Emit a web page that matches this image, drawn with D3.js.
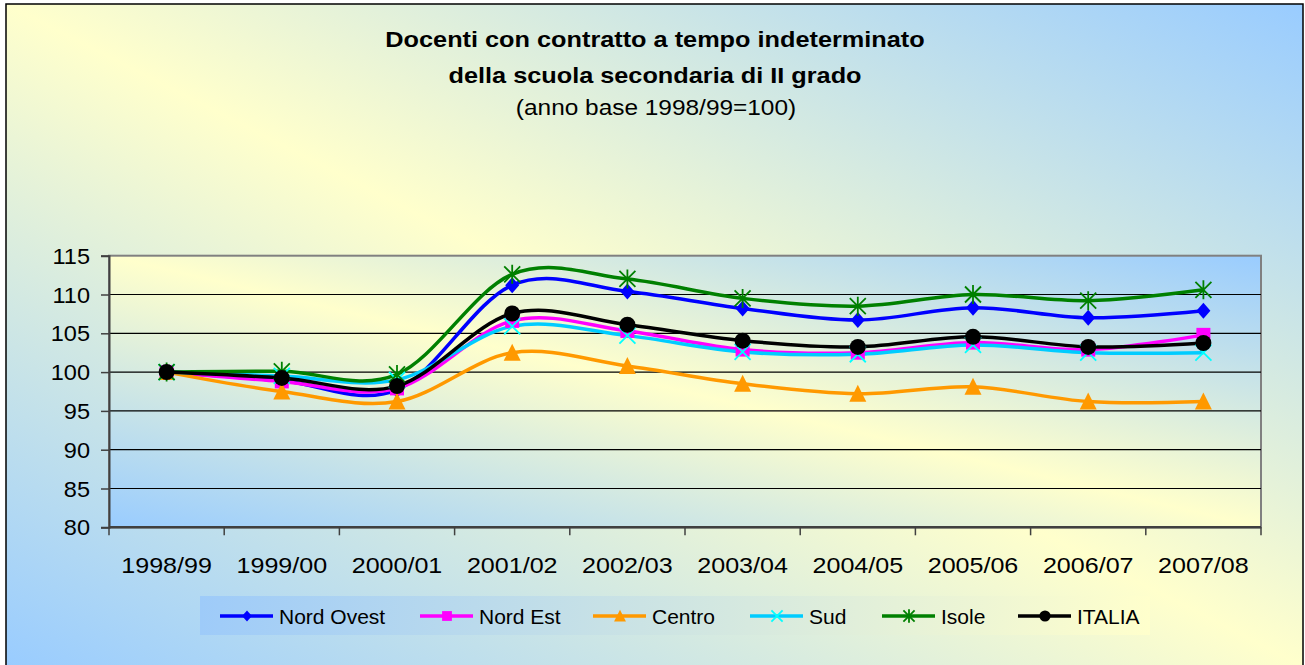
<html>
<head>
<meta charset="utf-8">
<title>Docenti scuola secondaria II grado</title>
<script src="https://cdn.jsdelivr.net/npm/d3@7/dist/d3.min.js"></script>
<style>
  body { margin: 0; background: #fff; }
  svg text { font-family: "Liberation Sans", Arial, sans-serif; fill: #000; }
</style>
</head>
<body>
<script>
// categories (school years)
var years = ['1998/99','1999/00','2000/01','2001/02','2002/03','2003/04','2004/05','2005/06','2006/07','2007/08'];
var yTicks = [80, 85, 90, 95, 100, 105, 110, 115];

// index numbers, base 1998/99 = 100
var nordOvest = [100, 98.9, 97.7, 111.2, 110.4, 108.2, 106.7, 108.3, 107.0, 107.9];
var nordEst   = [100, 98.8, 97.9, 106.6, 105.3, 102.9, 102.5, 103.8, 102.9, 104.8];
var centro    = [100, 97.5, 96.2, 102.5, 100.8, 98.5, 97.2, 98.1, 96.2, 96.2];
var sud       = [100, 99.5, 99.0, 105.9, 104.7, 102.6, 102.3, 103.5, 102.5, 102.5];
var isole     = [100, 100.1, 99.7, 112.6, 112.0, 109.5, 108.5, 110.0, 109.2, 110.6];
var italia    = [100, 99.25, 98.2, 107.55, 106.1, 104.05, 103.25, 104.55, 103.25, 103.75];

var seriesNames = ['Nord Ovest','Nord Est','Centro','Sud','Isole','ITALIA'];

var series = [
  {name: seriesNames[0], values: nordOvest, color: '#0000FF', mcolor: '#0000FF', marker: 'diamond'},
  {name: seriesNames[1], values: nordEst,   color: '#FF00FF', mcolor: '#FF00FF', marker: 'square'},
  {name: seriesNames[2], values: centro,    color: '#FF9900', mcolor: '#FF9900', marker: 'triangle'},
  {name: seriesNames[3], values: sud,       color: '#00CCFF', mcolor: '#00FFFF', marker: 'x'},
  {name: seriesNames[4], values: isole,     color: '#008000', mcolor: '#008000', marker: 'star'},
  {name: seriesNames[5], values: italia,    color: '#000000', mcolor: '#000000', marker: 'circle'}
];

var W = 1305, H = 665;
var plot = {left: 109, right: 1261, top: 255.7, bottom: 527.3};

var svg = d3.select('body').append('svg')
  .attr('width', W).attr('height', H);

var defs = svg.append('defs');
function diagGrad(id) {
  var g = defs.append('linearGradient').attr('id', id)
    .attr('x1', 0).attr('y1', 1).attr('x2', 1).attr('y2', 0);
  g.append('stop').attr('offset', '0%').attr('stop-color', '#99CCFF');
  g.append('stop').attr('offset', '50%').attr('stop-color', '#FFFFCC');
  g.append('stop').attr('offset', '100%').attr('stop-color', '#99CCFF');
}
diagGrad('bgGrad');
diagGrad('plotGrad');
var lg = defs.append('linearGradient').attr('id', 'legGrad')
  .attr('x1', 0).attr('y1', 0).attr('x2', 1).attr('y2', 0);
lg.append('stop').attr('offset', '0%').attr('stop-color', '#9ECBF9');
lg.append('stop').attr('offset', '100%').attr('stop-color', '#FFFFCC');

// chart area
svg.append('rect')
  .attr('x', 6).attr('y', 4).attr('width', 1297).attr('height', 662)
  .attr('fill', 'url(#bgGrad)')
  .attr('stroke', '#000').attr('stroke-width', 1.5);

// stretched text helper (the original is a bit wider than tall)
function label(g, txt, x, y, size, anchor, sx, weight) {
  return g.append('text')
    .attr('transform', 'translate(' + x + ',' + y + ') scale(' + sx + ',1)')
    .attr('text-anchor', anchor)
    .style('font-size', size + 'px')
    .style('font-weight', weight || 'normal')
    .text(txt);
}

// title
label(svg, 'Docenti con contratto a tempo indeterminato', 655, 47, 22, 'middle', 1.15, 'bold');
label(svg, 'della scuola secondaria di II grado', 655, 82.5, 22, 'middle', 1.15, 'bold');
label(svg, '(anno base 1998/99=100)', 656, 115, 22, 'middle', 1.11);

var x = d3.scaleBand().domain(years).range([plot.left, plot.right]);
var y = d3.scaleLinear().domain([80, 115]).range([plot.bottom, plot.top]);

// plot area
svg.append('rect')
  .attr('x', plot.left).attr('y', plot.top)
  .attr('width', plot.right - plot.left).attr('height', plot.bottom - plot.top)
  .attr('fill', 'url(#plotGrad)')
  .attr('stroke', '#808080').attr('stroke-width', 2);

// gridlines
svg.append('g').selectAll('line')
  .data(yTicks.filter(function(d) { return d > 80 && d < 115; }))
  .enter().append('line')
  .attr('x1', plot.left).attr('x2', plot.right)
  .attr('y1', function(d) { return y(d); })
  .attr('y2', function(d) { return y(d); })
  .attr('stroke', '#000').attr('stroke-width', 1.2);

// y axis
var yAxis = svg.append('g')
  .attr('transform', 'translate(' + plot.left + ',0)')
  .call(d3.axisLeft(y).tickValues(yTicks).tickSize(8).tickFormat(''));
yAxis.select('.domain').attr('stroke', '#404040').attr('stroke-width', 2);
yAxis.selectAll('.tick line').attr('stroke', '#404040').attr('stroke-width', 1.5);
yTicks.forEach(function(t) {
  label(svg, t, 90, y(t) + 8, 22, 'end', 1.07);
});

// x axis: ticks between categories, labels centred
var xAxis = svg.append('g')
  .attr('transform', 'translate(0,' + plot.bottom + ')');
xAxis.append('line')
  .attr('x1', plot.left).attr('x2', plot.right)
  .attr('stroke', '#404040').attr('stroke-width', 2.5);
xAxis.selectAll('.tk')
  .data(years.concat(['end']))
  .enter().append('line')
  .attr('class', 'tk')
  .attr('x1', function(d) { return d === 'end' ? plot.right : x(d); })
  .attr('x2', function(d) { return d === 'end' ? plot.right : x(d); })
  .attr('y1', 0).attr('y2', 8)
  .attr('stroke', '#404040').attr('stroke-width', 1.5);
years.forEach(function(c) {
  label(svg, c, x(c) + x.bandwidth() / 2, 573, 22, 'middle', 1.14);
});

// markers
function drawMarker(g, type, cx, cy, col, s) {
  var k = s || 1;
  if (type === 'diamond') {
    g.append('path')
      .attr('d', 'M' + cx + ',' + (cy - 8 * k) + 'L' + (cx + 7 * k) + ',' + cy + 'L' + cx + ',' + (cy + 8 * k) + 'L' + (cx - 7 * k) + ',' + cy + 'Z')
      .attr('fill', col);
  } else if (type === 'square') {
    g.append('rect')
      .attr('x', cx - 7 * k).attr('y', cy - 7 * k)
      .attr('width', 14 * k).attr('height', 14 * k)
      .attr('fill', col);
  } else if (type === 'triangle') {
    g.append('path')
      .attr('d', 'M' + cx + ',' + (cy - 9 * k) + 'L' + (cx + 8.5 * k) + ',' + (cy + 8 * k) + 'L' + (cx - 8.5 * k) + ',' + (cy + 8 * k) + 'Z')
      .attr('fill', col);
  } else if (type === 'x') {
    g.append('path')
      .attr('d', 'M' + (cx - 8 * k) + ',' + (cy - 8 * k) + 'L' + (cx + 8 * k) + ',' + (cy + 8 * k) +
                 'M' + (cx + 8 * k) + ',' + (cy - 8 * k) + 'L' + (cx - 8 * k) + ',' + (cy + 8 * k))
      .attr('stroke', col).attr('stroke-width', 1.8).attr('fill', 'none');
  } else if (type === 'star') {
    g.append('path')
      .attr('d', 'M' + (cx - 8 * k) + ',' + (cy - 8 * k) + 'L' + (cx + 8 * k) + ',' + (cy + 8 * k) +
                 'M' + (cx + 8 * k) + ',' + (cy - 8 * k) + 'L' + (cx - 8 * k) + ',' + (cy + 8 * k) +
                 'M' + cx + ',' + (cy - 9.5 * k) + 'L' + cx + ',' + (cy + 9.5 * k))
      .attr('stroke', col).attr('stroke-width', 1.8).attr('fill', 'none');
  } else if (type === 'circle') {
    g.append('circle').attr('cx', cx).attr('cy', cy).attr('r', 8 * k).attr('fill', col);
  }
}

var line = d3.line()
  .x(function(d, i) { return x(years[i]) + x.bandwidth() / 2; })
  .y(function(d) { return y(d); })
  .curve(d3.curveCardinal);

var linesG = svg.append('g');
var markG = svg.append('g');
series.forEach(function(s) {
  linesG.append('path')
    .datum(s.values)
    .attr('d', line)
    .attr('fill', 'none')
    .attr('stroke', s.color)
    .attr('stroke-width', 3.5)
    .attr('stroke-linejoin', 'round');
  s.values.forEach(function(v, i) {
    drawMarker(markG, s.marker, x(years[i]) + x.bandwidth() / 2, y(v), s.mcolor);
  });
});

// legend
var leg = svg.append('g');
leg.append('rect')
  .attr('x', 200).attr('y', 596).attr('width', 950).attr('height', 39)
  .attr('fill', 'url(#legGrad)');
var legX = [220, 420, 593, 750, 882, 1018];
series.forEach(function(s, i) {
  var lx = legX[i];
  leg.append('line')
    .attr('x1', lx).attr('x2', lx + 53)
    .attr('y1', 616).attr('y2', 616)
    .attr('stroke', s.color).attr('stroke-width', 3.5);
  drawMarker(leg, s.marker, lx + 27, 616, s.mcolor, 0.7);
  label(leg, s.name, lx + 59, 623.5, 21, 'start', 1);
});
</script>
</body>
</html>
